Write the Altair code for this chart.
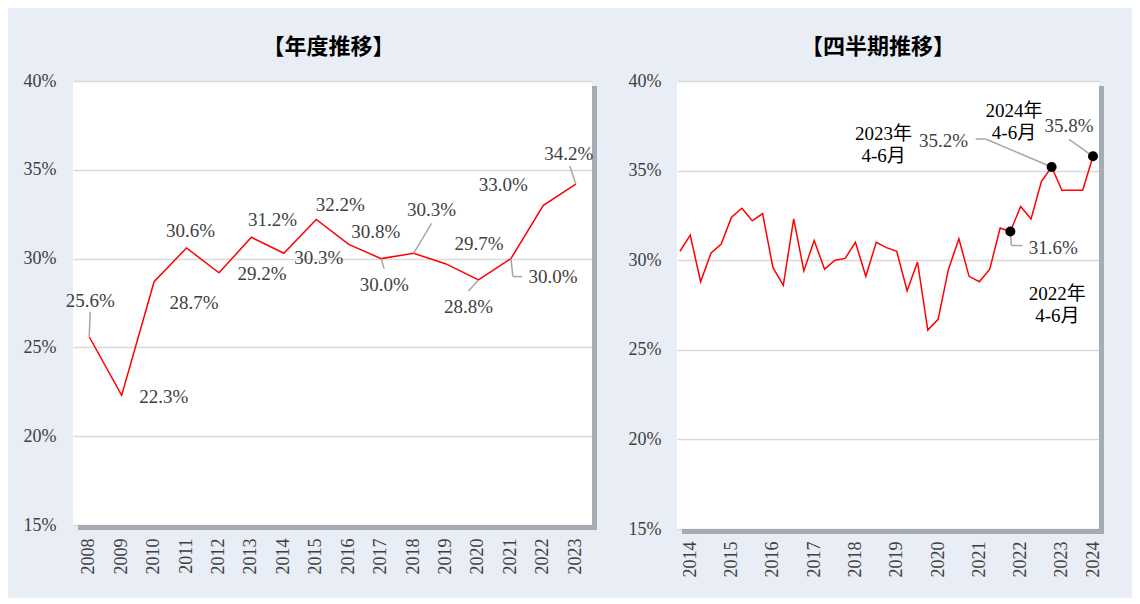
import altair as alt
import pandas as pd

# ---------------- data ----------------
years = ["2008", "2009", "2010", "2011", "2012", "2013", "2014", "2015",
         "2016", "2017", "2018", "2019", "2020", "2021", "2022", "2023"]
annual_values = [25.6, 22.3, 28.7, 30.6, 29.2, 31.2, 30.3, 32.2,
                 30.8, 30.0, 30.3, 29.7, 28.8, 30.0, 33.0, 34.2]

quarters = [
    "2014-04-01", "2014-07-01", "2014-10-01",
    "2015-01-01", "2015-04-01", "2015-07-01", "2015-10-01",
    "2016-01-01", "2016-04-01", "2016-07-01", "2016-10-01",
    "2017-01-01", "2017-04-01", "2017-07-01", "2017-10-01",
    "2018-01-01", "2018-04-01", "2018-07-01", "2018-10-01",
    "2019-01-01", "2019-04-01", "2019-07-01", "2019-10-01",
    "2020-01-01", "2020-04-01", "2020-07-01", "2020-10-01",
    "2021-01-01", "2021-04-01", "2021-07-01", "2021-10-01",
    "2022-01-01", "2022-04-01", "2022-07-01", "2022-10-01",
    "2023-01-01", "2023-04-01", "2023-07-01", "2023-10-01",
    "2024-01-01", "2024-04-01",
]
quarter_values = [
    30.5, 31.4, 28.8,
    30.4, 30.9, 32.4, 32.9,
    32.2, 32.6, 29.6, 28.6,
    32.3, 29.4, 31.1, 29.5,
    30.0, 30.1, 31.0, 29.1,
    31.0, 30.7, 30.5, 28.3,
    29.9, 26.1, 26.7, 29.5,
    31.2, 29.1, 28.8, 29.5,
    31.8, 31.6, 33.0, 32.3,
    34.4, 35.2, 33.9, 33.9,
    33.9, 35.8,
]
highlight_quarters = ["2022-04-01", "2023-04-01", "2024-04-01"]
highlight_texts = ["2022年\n4-6月", "2023年\n4-6月", "2024年\n4-6月"]

y_ticks = [15, 20, 25, 30, 35, 40]
quarter_tick_dates = [(2014, 7), (2015, 7), (2016, 7), (2017, 7), (2018, 7), (2019, 7),
                      (2020, 7), (2021, 7), (2022, 7), (2023, 7), (2024, 4)]

titles = ["【年度推移】", "【四半期推移】"]

# ---------------- layout / style ----------------
BG = "#E9EDF5"
RED = "#FF0000"
LEADER = "#A6A6A6"
TXT = "#404040"
SERIF = "Liberation Serif, Noto Sans CJK JP"
WA, HA = 519, 444
WQ, HQ = 422, 448

# label offsets (pixels) for annual labels
annual_label_offsets = [(1, -36), (42, 2), (40, 21), (4, -17), (43, 1), (21, -17), (35, 5), (24, -15),
                        (27, -12), (3, 26), (18, -43), (33, -20), (-10, 27), (42, 18), (-40, -20), (-7, -30)]
# leader segments: (index, x1, y1, x2, y2) offsets from the point
annual_leaders = [(0, 0, 0, 1, -25), (9, 0, 0, 3, 10), (10, 0, 0, 18, -30), (12, 0, 0, -10, 11),
                  (13, 0, 0, 2, 18), (13, 2, 18, 11, 18), (15, 0, 0, -6, -18)]

# quarterly annotations (offsets from highlighted points)
q_value_offsets = [(43, 16), (-108, -26), (-24, -30)]
q_text_offsets = [(47, 62), (-168, -33), (-79, -45)]
q_leaders = [(0, 0, 0, 1, 14), (0, 1, 14, 12, 14),
             (1, 0, 0, -66, -28), (1, -66, -28, -76, -28),
             (2, 0, 0, -24, -17)]


def shadow(w, h):
    d = pd.DataFrame({"k": [0]})
    right = alt.Chart(d).mark_rect(color="#9AA0A8", opacity=0.85).encode(
        x=alt.value(w), x2=alt.value(w + 5), y=alt.value(5), y2=alt.value(h + 5))
    bottom = alt.Chart(d).mark_rect(color="#9AA0A8", opacity=0.85).encode(
        x=alt.value(5), x2=alt.value(w), y=alt.value(h), y2=alt.value(h + 5))
    return [right, bottom]


def y_enc(pad, extent):
    return alt.Y("value:Q", title=None,
                 scale=alt.Scale(domain=[15, 40], nice=False, zero=False),
                 axis=alt.Axis(values=y_ticks, labelExpr="datum.value + '%'", ticks=False,
                               domain=False, grid=True, labelPadding=pad,
                               minExtent=extent, maxExtent=extent))


# ---------------- annual chart ----------------
df_a = pd.DataFrame({"year": years, "value": annual_values, "i": list(range(len(years)))})
df_a["label"] = [f"{v:.1f}%" for v in annual_values]

xA = alt.X("year:O", title=None,
           axis=alt.Axis(labelAngle=270, labelAlign="right", labelBaseline="middle",
                         labelPadding=13, ticks=False, domain=False, grid=False))
baseA = alt.Chart(df_a).encode(x=xA, y=y_enc(17, 65))

layersA = shadow(WA, HA)
layersA.append(baseA.mark_line(color=RED, strokeWidth=1.5))
for (i, x1, y1, x2, y2) in annual_leaders:
    layersA.append(
        baseA.transform_filter(alt.datum.i == i)
        .mark_rule(color=LEADER, strokeWidth=1.5, xOffset=x1, yOffset=y1, x2Offset=x2, y2Offset=y2)
        .encode(x2="year:O", y2="value:Q"))
for i, (dx, dy) in enumerate(annual_label_offsets):
    layersA.append(
        baseA.transform_filter(alt.datum.i == i)
        .mark_text(dx=dx, dy=dy, font=SERIF, fontSize=19, color=TXT, align="center", baseline="middle")
        .encode(text="label:N"))

chartA = alt.layer(*layersA).properties(
    width=WA, height=HA,
    title=alt.TitleParams(titles[0], fontSize=22, fontWeight="bold", font="Noto Sans CJK JP",
                          color="black", offset=13, dx=-4))

# ---------------- quarterly chart ----------------
df_q = pd.DataFrame({"date": quarters, "value": quarter_values, "i": list(range(len(quarters)))})
df_q["label"] = [f"{v:.1f}%" for v in quarter_values]
df_q["h"] = [highlight_quarters.index(q) if q in highlight_quarters else -1 for q in quarters]
df_q["note"] = [highlight_texts[highlight_quarters.index(q)] if q in highlight_quarters else "" for q in quarters]

xQ = alt.X("date:T", title=None,
           scale=alt.Scale(type="utc",
                           domain=[alt.DateTime(year=2014, month=3, date=6, utc=True),
                                   alt.DateTime(year=2024, month=5, date=24, utc=True)]),
           axis=alt.Axis(values=[alt.DateTime(year=y, month=m, date=1, utc=True) for (y, m) in quarter_tick_dates],
                         format="%Y", labelAngle=270, labelAlign="right", labelBaseline="middle",
                         labelPadding=12, ticks=False, domain=False, grid=False, labelOverlap=False))
baseQ = alt.Chart(df_q).encode(x=xQ, y=y_enc(16, 60))

layersQ = shadow(WQ, HQ)
layersQ.append(baseQ.mark_line(color=RED, strokeWidth=1.5))
for (h, x1, y1, x2, y2) in q_leaders:
    layersQ.append(
        baseQ.transform_filter(alt.datum.h == h)
        .mark_rule(color=LEADER, strokeWidth=1.5, xOffset=x1, yOffset=y1, x2Offset=x2, y2Offset=y2)
        .encode(x2="date:T", y2="value:Q"))
layersQ.append(baseQ.transform_filter(alt.datum.h >= 0).mark_circle(size=100, color="black", opacity=1))
for h, (dx, dy) in enumerate(q_value_offsets):
    layersQ.append(
        baseQ.transform_filter(alt.datum.h == h)
        .mark_text(dx=dx, dy=dy, font=SERIF, fontSize=19, color=TXT, align="center", baseline="middle")
        .encode(text="label:N"))
for h, (dx, dy) in enumerate(q_text_offsets):
    layersQ.append(
        baseQ.transform_filter(alt.datum.h == h)
        .mark_text(dx=dx, dy=dy, font=SERIF, fontSize=19, color="black", align="center",
                   baseline="middle", lineBreak="\n", lineHeight=22)
        .encode(text="note:N"))

chartQ = alt.layer(*layersQ).properties(
    width=WQ, height=HQ,
    title=alt.TitleParams(titles[1], fontSize=22, fontWeight="bold", font="Noto Sans CJK JP",
                          color="black", offset=13, dx=-10))

chart = alt.hconcat(chartA, chartQ, spacing=20).properties(
    background=BG,
    padding={"left": 0, "top": 28, "right": 28, "bottom": 21},
).configure_view(fill="white", stroke=None).configure_axis(
    labelFont="Liberation Serif", labelFontSize=18, labelColor=TXT,
    gridColor="#D9D9D9", gridWidth=1.5,
)

chart.save("out.html", embed_options={"renderer": "svg", "actions": False})
